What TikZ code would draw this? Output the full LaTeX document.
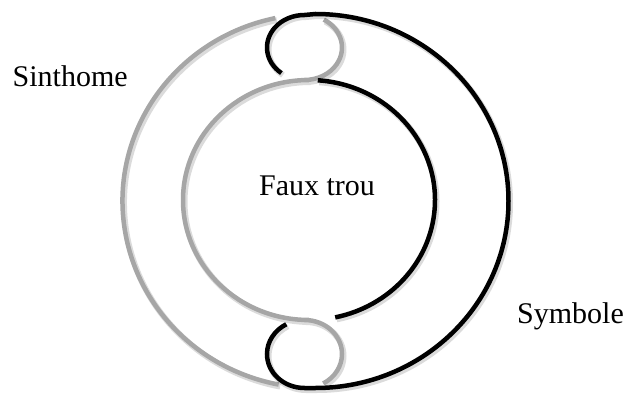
\documentclass[tikz,border=0pt]{standalone}
\usepackage{fontspec}
\setmainfont{Liberation Serif}
\definecolor{ringgray}{HTML}{A6A6A6}
\tikzset{
  shadowed/.style={preaction={draw=black, draw opacity=0.14, line width=6pt,
      transform canvas={shift={(1.5pt,-2pt)}}}},
  grayring/.style={draw=ringgray, line width=4.5pt, shadowed},
  blackring/.style={draw=black, line width=4.5pt, shadowed},
  lbl/.style={font=\fontsize{30}{36}\selectfont, inner sep=0pt}
}
\begin{document}
\begin{tikzpicture}[x=1pt,y=1pt]
\useasboundingbox (0,0) rectangle (632,394);
% centers
\coordinate (oc) at (315.5,193);
\coordinate (ic) at (309,194);
\coordinate (tl) at (304.5,346.5);
\coordinate (bl) at (304.5,40);
% gray outer (Sinthome)
\draw[grayring] ([shift={(102:193 and 187)}]oc) arc[start angle=102, end angle=259, x radius=193, y radius=187];
% gray inner with loops
\draw[grayring] ([shift={(59:37.5 and 32.5)}]tl) arc[start angle=59, end angle=-90, x radius=37.5, y radius=32.5]
  -- ([shift={(90:126 and 120)}]ic) arc[start angle=90, end angle=270, x radius=126, y radius=120]
  -- ([shift={(90:37.5 and 34)}]bl) arc[start angle=90, end angle=-60, x radius=37.5, y radius=34];
% black inner
\draw[blackring] ([shift={(86:126 and 120)}]ic) arc[start angle=86, end angle=-78, x radius=126, y radius=120];
% black outer with loops (Symbole)
\draw[blackring] ([shift={(232:37.5 and 32.5)}]tl) arc[start angle=232, end angle=90, x radius=37.5, y radius=32.5]
  -- ([shift={(90:193 and 187)}]oc) arc[start angle=90, end angle=-90, x radius=193, y radius=187]
  -- ([shift={(-90:37.5 and 34)}]bl) arc[start angle=-90, end angle=-241, x radius=37.5, y radius=34];
% labels
\node[lbl, anchor=base west] (sinthome) at (12.5,307) {Sinthome};
\node[lbl, anchor=base] (faux) at (317,198) {Faux trou};
\node[lbl, anchor=base west] (symbole) at (517,71) {Symbole};
\end{tikzpicture}
\end{document}
